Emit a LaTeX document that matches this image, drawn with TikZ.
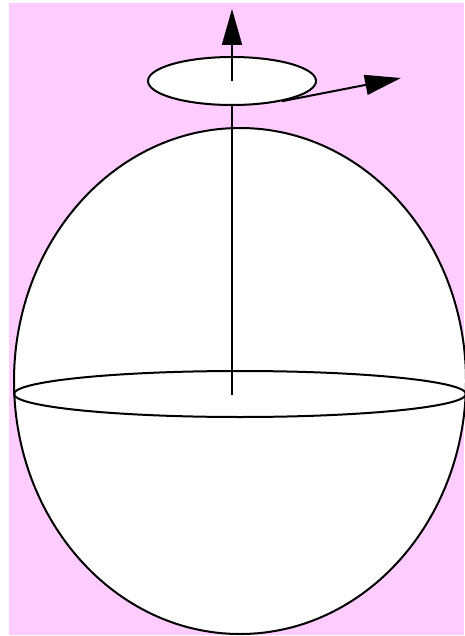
\documentclass[tikz,border=0pt]{standalone}
\usepackage{xcolor}
\usepackage{tikz}
\usetikzlibrary{arrows.meta,shapes.geometric}
\definecolor{pinkbg}{HTML}{FFCCFF}

\begin{document}
\begin{tikzpicture}[
  x=1pt,y=-1pt,
  >={Triangle[length=36pt,width=20pt]},
  ball/.style={ellipse,draw=black,line width=2pt,fill=white,inner sep=0pt,
               minimum width=452pt,minimum height=506pt},
  ring/.style={ellipse,draw=black,line width=2pt,fill=white,inner sep=0pt},
  axis/.style={line width=2pt,black}
]
\useasboundingbox (0,0) rectangle (464,636);
\fill[pinkbg] (9,3) rectangle (464,635);

\node[ball] (sphere) at (240,381) {};
\node[ring,fill=none,minimum width=452pt,minimum height=46pt] (equator) at (240,394) {};
\coordinate (centre) at (232,395);
\coordinate (top) at (232,9);
\coordinate (tang) at (401,78);

\draw[axis] (centre) -- (232,81);
\node[ring,minimum width=168pt,minimum height=48pt] (spin) at (232,81) {};
\draw[axis,->] (spin.center) -- (top);
\draw[axis,->] (spin.-22) -- (tang);
\end{tikzpicture}
\end{document}
